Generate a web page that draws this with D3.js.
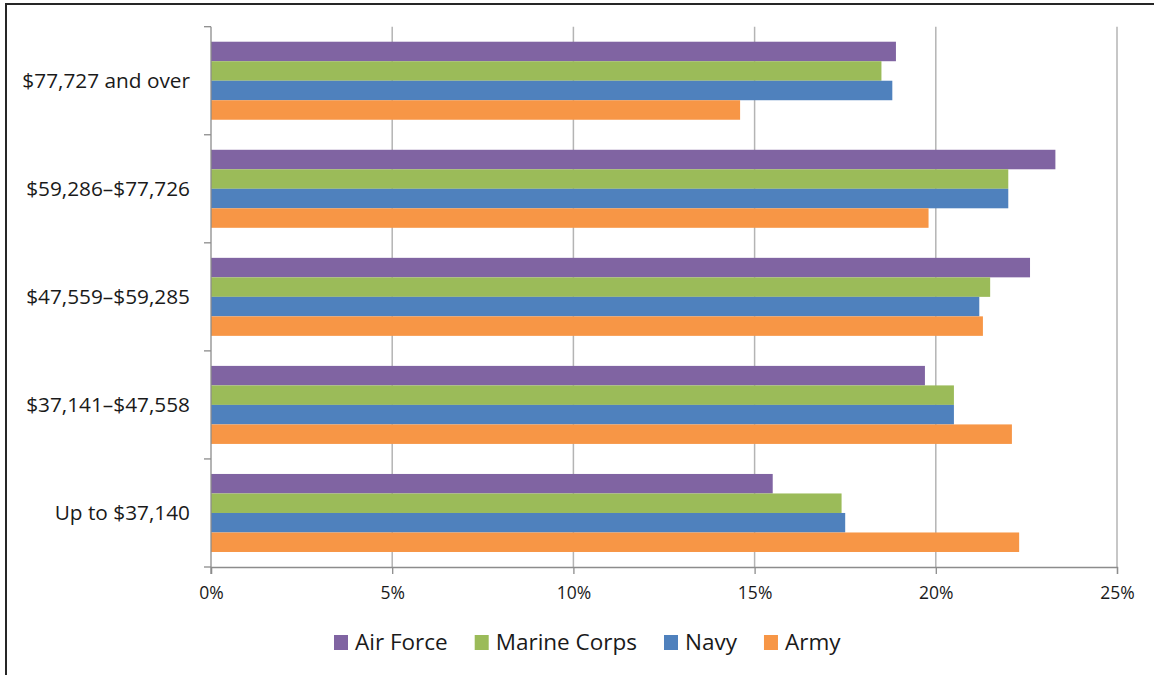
<!DOCTYPE html>
<html>
<head>
<meta charset="utf-8">
<script src="https://cdn.jsdelivr.net/npm/d3@7"></script>
<style>
  html, body { margin: 0; padding: 0; background: #fff; }
  svg { display: block; }
  text { font-family: "Open Sans", "Liberation Sans", sans-serif; fill: #1a1a1a; }
</style>
</head>
<body>
<svg id="chart" width="1154" height="675"></svg>
<script>
// ---- data ----
const categories = ["$77,727 and over", "$59,286\u2013$77,726", "$47,559\u2013$59,285", "$37,141\u2013$47,558", "Up to $37,140"];
const seriesNames = ["Air Force", "Marine Corps", "Navy", "Army"];
const airForce    = [18.9, 23.3, 22.6, 19.7, 15.5];
const marineCorps = [18.5, 22.0, 21.5, 20.5, 17.4];
const navy        = [18.8, 22.0, 21.2, 20.5, 17.5];
const army        = [14.6, 19.8, 21.3, 22.1, 22.3];
const seriesColors = ["#8064A2", "#9BBB59", "#4F81BD", "#F79646"];
const xTicks = [0, 5, 10, 15, 20, 25];

const seriesValues = [airForce, marineCorps, navy, army];

const svg = d3.select("#chart");

// frame (left and top edges visible)
svg.append("line").attr("x1", 5).attr("x2", 1154).attr("y1", 4).attr("y2", 4)
  .attr("stroke", "#262626").attr("stroke-width", 2);
svg.append("line").attr("x1", 6).attr("x2", 6).attr("y1", 3).attr("y2", 675)
  .attr("stroke", "#262626").attr("stroke-width", 2);

const pLeft = 211, pRight = 1117, pTop = 26.7, pBottom = 567;

const x = d3.scaleLinear().domain([0, 25]).range([pLeft, pRight]);
const y = d3.scaleBand().domain(categories).range([pTop, pBottom]).padding(0);
const inner = d3.scaleBand().domain(seriesNames).range([0, y.bandwidth()])
  .paddingInner(0).paddingOuter(0.77);

// gridlines
svg.append("g").selectAll("line").data(xTicks.slice(1)).join("line")
  .attr("x1", d => x(d)).attr("x2", d => x(d))
  .attr("y1", pTop).attr("y2", pBottom)
  .attr("stroke", "#b4b4b4").attr("stroke-width", 1.5);

// bars
const rows = [];
categories.forEach((c, i) => {
  seriesNames.forEach((s, j) => rows.push({ c, s, v: seriesValues[j][i], color: seriesColors[j] }));
});
svg.append("g").selectAll("rect").data(rows).join("rect")
  .attr("x", x(0))
  .attr("y", d => y(d.c) + inner(d.s))
  .attr("width", d => x(d.v) - x(0))
  .attr("height", inner.bandwidth())
  .attr("fill", d => d.color);

// x axis
const xAxis = svg.append("g").attr("transform", `translate(0,${pBottom})`)
  .call(d3.axisBottom(x).tickValues(xTicks).tickFormat(d => d + "%").tickSize(7).tickPadding(13));
xAxis.select(".domain").attr("stroke", "#8c8c8c").attr("stroke-width", 1.3);
xAxis.selectAll(".tick line").attr("stroke", "#8c8c8c").attr("stroke-width", 1.3);
xAxis.selectAll(".tick text").attr("font-size", 17.5).attr("fill", "#1a1a1a")
  .style("font-family", '"Open Sans", sans-serif');

// y axis: ticks at category boundaries
const boundaries = categories.map(c => y(c)).concat([pBottom]);
svg.append("line").attr("x1", pLeft).attr("x2", pLeft).attr("y1", pTop).attr("y2", pBottom + 7)
  .attr("stroke", "#8c8c8c").attr("stroke-width", 1.3);
svg.append("g").selectAll("line").data(boundaries).join("line")
  .attr("x1", pLeft - 7).attr("x2", pLeft).attr("y1", d => d).attr("y2", d => d)
  .attr("stroke", "#8c8c8c").attr("stroke-width", 1.3);
svg.append("g").selectAll("text").data(categories).join("text")
  .attr("x", 190).attr("y", d => y(d) + y.bandwidth() / 2)
  .attr("dy", "0.35em").attr("text-anchor", "end").attr("font-size", 20.8)
  .text(d => d);

// legend
const legend = svg.append("g");
let lx = 334;
seriesNames.forEach((s, j) => {
  legend.append("rect").attr("x", lx).attr("y", 635).attr("width", 14).attr("height", 15)
    .attr("fill", seriesColors[j]);
  const t = legend.append("text").attr("x", lx + 21).attr("y", 650).attr("font-size", 22.5).text(s);
  lx += 21 + t.node().getComputedTextLength() + 27;
});
</script>
</body>
</html>
